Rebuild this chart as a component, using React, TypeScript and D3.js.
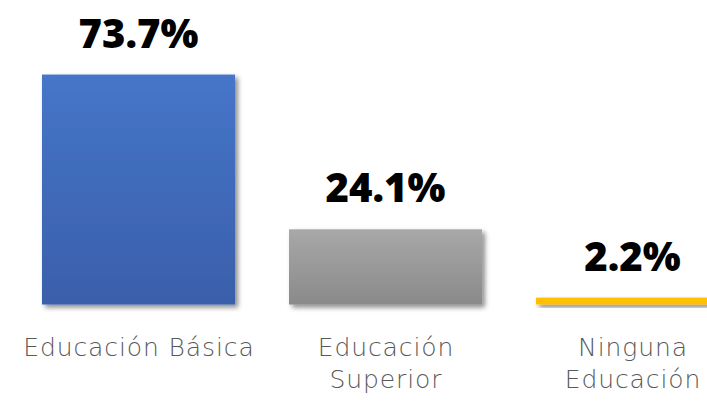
import React from "react";
import * as d3 from "d3";

const categories = ["Educación Básica", "Educación Superior", "Ninguna Educación"];
const values = [73.7, 24.1, 2.2];
const valueLabels = ["73.7%", "24.1%", "2.2%"];

const W = 707;
const H = 401;

function wrap(text: string, maxW: number, fontSize: number): string[] {
  const words = text.split(" ");
  const lines: string[] = [];
  let cur = "";
  const est = (s: string) => s.length * fontSize * 0.6;
  for (const w of words) {
    const t = cur ? cur + " " + w : w;
    if (est(t) > maxW && cur) {
      lines.push(cur);
      cur = w;
    } else cur = t;
  }
  if (cur) lines.push(cur);
  return lines;
}

export default function App() {
  const x = d3.scaleBand<string>().domain(categories).range([0, 771]).paddingInner(0.2186).paddingOuter(0.17);
  const y = d3.scaleLinear().domain([0, 100]).range([304.5, -7.5]);
  const grads = [
    { id: "gBlue", top: "#4675C9", bot: "#3A5FAA" },
    { id: "gGray", top: "#A8A8A8", bot: "#8A8A8A" },
    { id: "gYellow", top: "#FFC000", bot: "#FFC000" },
  ];
  const fs = 25;
  const ls = 0.9;
  return (
    <svg width={W} height={H} style={{ position: "absolute", left: 0, top: 0 }}>
      <defs>
        {grads.map((g) => (
          <linearGradient key={g.id} id={g.id} x1="0" y1="0" x2="0" y2="1">
            <stop offset="0" stopColor={g.top} />
            <stop offset="1" stopColor={g.bot} />
          </linearGradient>
        ))}
        <filter id="shadow" x="-10%" y="-10%" width="130%" height="150%">
          <feDropShadow dx="3" dy="3" stdDeviation="2.5" floodColor="#000" floodOpacity="0.45" />
        </filter>
      </defs>
      <rect width={W} height={H} fill="#fff" />
      {categories.map((c, i) => {
        const x0 = x(c)!;
        const bw = x.bandwidth();
        const cx = x0 + bw / 2;
        const yt = y(values[i]);
        const lines = wrap(c, 240, fs);
        return (
          <g key={c}>
            <rect x={x0} y={yt} width={bw} height={y(0) - yt} fill={`url(#${grads[i].id})`} filter="url(#shadow)" />
            <text x={cx} y={yt - 27} textAnchor="middle" fontFamily="'Open Sans', sans-serif" fontWeight={800} fontSize={40} fill="#000">
              {valueLabels[i]}
            </text>
            {lines.map((l, j) => (
              <text key={j} x={cx + ls / 2} y={356 + j * 32} textAnchor="middle" fontFamily="'DejaVu Sans', sans-serif" fontWeight={200} fontSize={fs} letterSpacing={ls} fill="#595959">
                {l}
              </text>
            ))}
          </g>
        );
      })}
    </svg>
  );
}
